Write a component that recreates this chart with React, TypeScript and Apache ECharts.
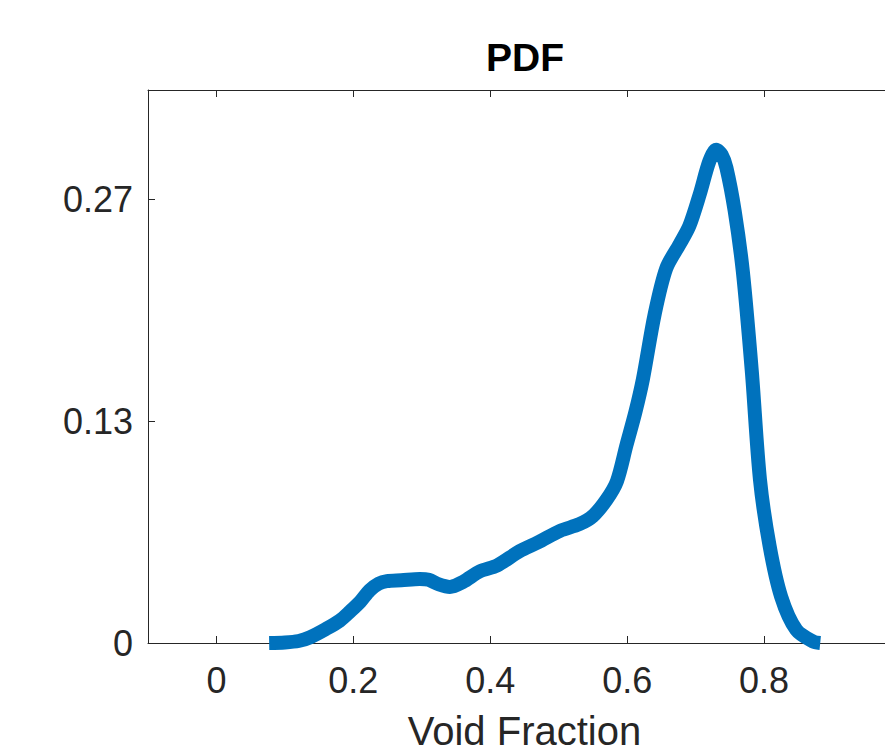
import React, { useEffect, useRef } from "react";
import * as echarts from "echarts";

const voidFraction = [
  0.077, 0.1, 0.12, 0.137, 0.16, 0.18, 0.195, 0.21, 0.224, 0.237, 0.249, 0.27,
  0.297, 0.31, 0.325, 0.341, 0.36, 0.385, 0.41, 0.443, 0.47, 0.502, 0.53, 0.55,
  0.57, 0.585, 0.599, 0.612, 0.623, 0.64, 0.657, 0.677, 0.691, 0.706, 0.72,
  0.73, 0.738, 0.745, 0.757, 0.769, 0.782, 0.794, 0.808, 0.825, 0.847, 0.871,
  0.882,
];
const pdfValues = [
  0, 0.0003, 0.0012, 0.0035, 0.0085, 0.0135, 0.019, 0.025, 0.032, 0.036, 0.0375,
  0.038, 0.0388, 0.0383, 0.0355, 0.034, 0.037, 0.0435, 0.047, 0.0557, 0.061,
  0.068, 0.072, 0.077, 0.087, 0.098, 0.12, 0.14, 0.16, 0.199, 0.227, 0.242,
  0.253, 0.272, 0.292, 0.299, 0.296, 0.288, 0.262, 0.225, 0.165, 0.099, 0.059,
  0.028, 0.008, 0.001, 0,
];
const xTickValues = [0, 0.2, 0.4, 0.6, 0.8, 1.0];
const xLabelValues = [0, 0.2, 0.4, 0.6, 0.8];
const xTickLabels = ["0", "0.2", "0.4", "0.6", "0.8"];
const yTickValues = [0, 0.1345, 0.269];
const yTickLabels = ["0", "0.13", "0.27"];

const AXIS_COLOR = "#262626";
const FONT = "'Liberation Sans', Arial, Helvetica, sans-serif";

export default function App() {
  const ref = useRef<HTMLDivElement>(null);
  useEffect(() => {
    if (!ref.current) return;
    const chart = echarts.init(ref.current, undefined, { renderer: "svg" });
    const xLabel = (v: number) => {
      const i = xLabelValues.findIndex((t) => Math.abs(t - v) < 1e-6);
      return i >= 0 ? xTickLabels[i] : "";
    };
    const yLabel = (v: number) => {
      const i = yTickValues.findIndex((t) => Math.abs(t - v) < 1e-6);
      return i >= 0 ? yTickLabels[i] : "";
    };
    const axisLine = { show: true, onZero: false, lineStyle: { color: AXIS_COLOR, width: 1 } };
    const tick = (vals: number[]) => ({
      show: true,
      inside: true,
      length: 7,
      customValues: vals,
      lineStyle: { color: AXIS_COLOR, width: 1 },
    });
    chart.setOption({
      animation: false,
      backgroundColor: "#ffffff",
      title: {
        text: "PDF",
        left: 481,
        top: 33,
        textStyle: { fontFamily: FONT, fontSize: 39, fontWeight: "bold", color: "#000000" },
      },
      grid: {
        left: 148,
        top: 90,
        right: -16,
        bottom: 110,
        containLabel: false,
        outerBoundsMode: "none",
      },
      xAxis: [
        {
          type: "value",
          min: -0.1,
          max: 1.0,
          position: "bottom",
          name: "Void Fraction",
          nameLocation: "middle",
          nameGap: 68,
          nameTextStyle: { fontFamily: FONT, fontSize: 40, color: AXIS_COLOR },
          axisLine,
          axisTick: tick(xTickValues),
          axisLabel: {
            show: true,
            customValues: xLabelValues,
            formatter: xLabel,
            margin: 19,
            fontFamily: FONT,
            fontSize: 36,
            color: AXIS_COLOR,
          },
          splitLine: { show: false },
        },
        {
          type: "value",
          min: -0.1,
          max: 1.0,
          position: "top",
          axisLine,
          axisTick: tick(xTickValues),
          axisLabel: { show: false },
          splitLine: { show: false },
        },
      ],
      yAxis: [
        {
          type: "value",
          min: 0,
          max: 0.3352,
          position: "left",
          axisLine,
          axisTick: tick(yTickValues),
          axisLabel: {
            show: true,
            customValues: yTickValues,
            formatter: yLabel,
            margin: 15,
            fontFamily: FONT,
            fontSize: 36,
            color: AXIS_COLOR,
          },
          splitLine: { show: false },
        },
        {
          type: "value",
          min: 0,
          max: 0.3352,
          position: "right",
          axisLine,
          axisTick: tick(yTickValues),
          axisLabel: { show: false },
          splitLine: { show: false },
        },
      ],
      series: [
        {
          type: "line",
          xAxisIndex: 0,
          yAxisIndex: 0,
          data: voidFraction.map((x, i) => [x, pdfValues[i]]),
          showSymbol: false,
          smooth: 0.3,
          lineStyle: { color: "#0072BD", width: 14, cap: "butt", join: "round" },
          itemStyle: { color: "#0072BD" },
          clip: false,
        },
      ],
    });
    return () => chart.dispose();
  }, []);
  return (
    <div
      ref={ref}
      style={{ position: "absolute", left: 0, top: 0, width: 885, height: 753, overflow: "hidden" }}
    />
  );
}
